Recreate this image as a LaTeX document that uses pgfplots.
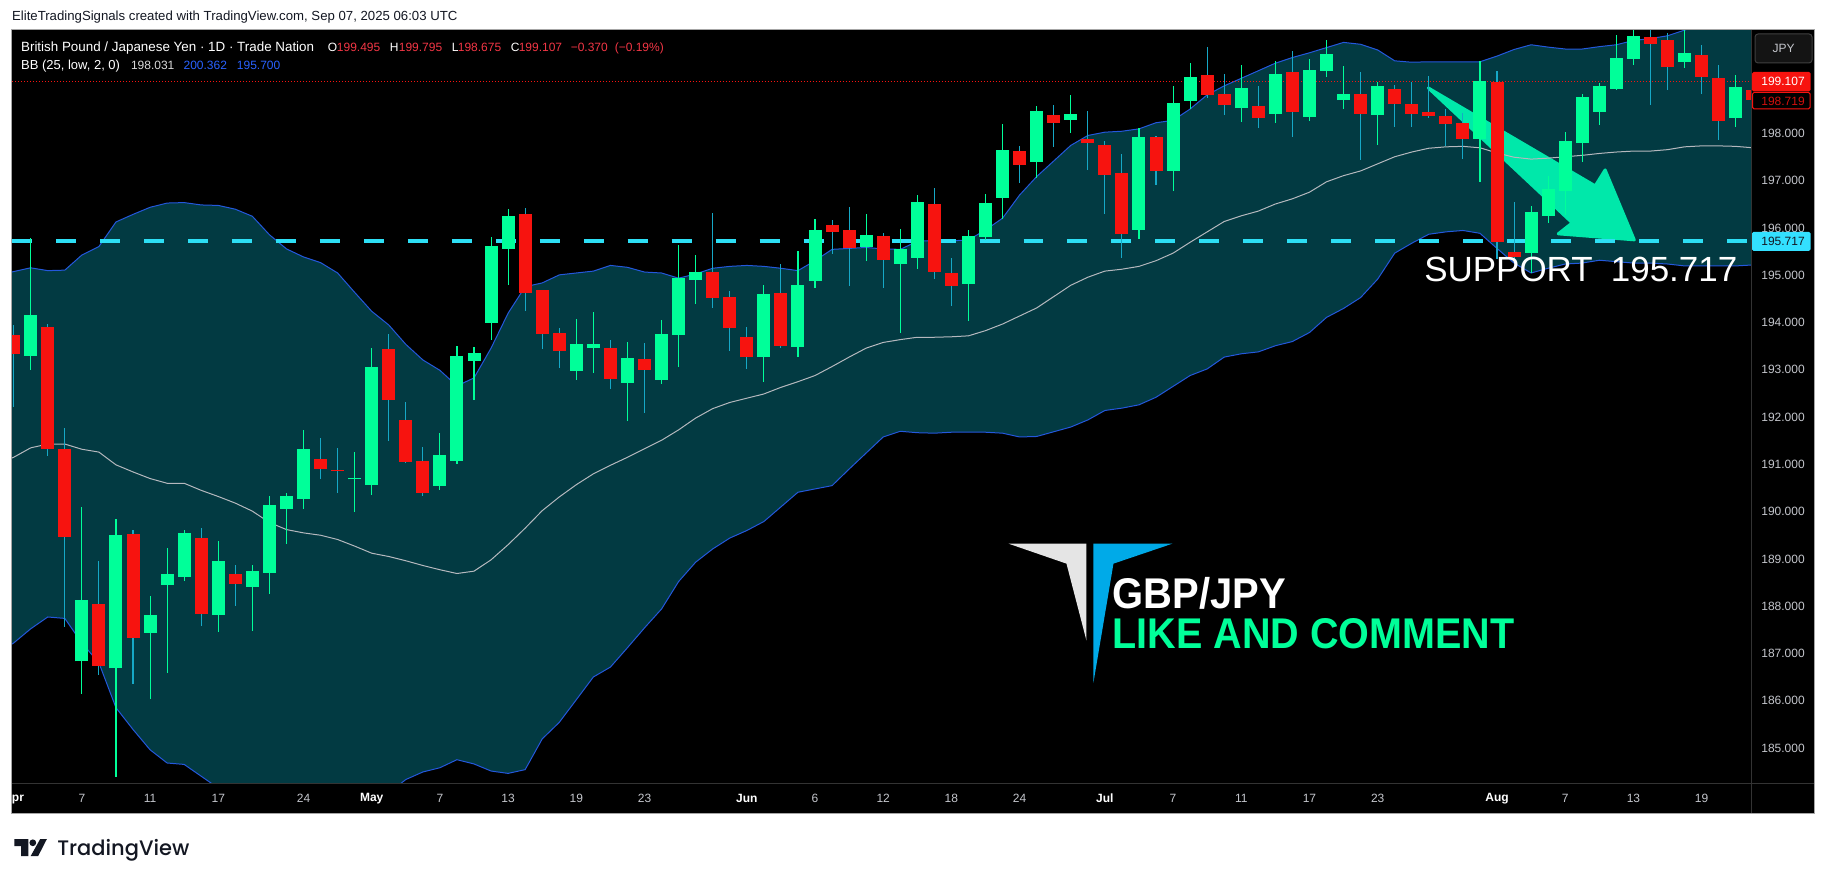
\documentclass[border=0pt]{standalone}
\usepackage{fontspec}
\setmainfont{Liberation Sans}
\newfontfamily\tvfont{Poppins Medium}
\usepackage{graphicx}
\usepackage{pgfplots}
\usepackage{pgfplotstable}
\pgfplotsset{compat=1.18}
\definecolor{upc}{HTML}{00FF99}
\definecolor{dnc}{HTML}{F7130F}
\definecolor{dnw}{HTML}{16A8C6}
\definecolor{bandf}{HTML}{023A42}
\definecolor{bandl}{HTML}{2458DC}
\definecolor{midl}{HTML}{B5B8BE}
\definecolor{sup}{HTML}{2DDFF5}
\definecolor{tickc}{HTML}{C4C6CC}
\definecolor{legred}{HTML}{F23645}
\definecolor{legblue}{HTML}{2962FF}
\definecolor{tvd}{HTML}{131722}
\definecolor{arrowc}{HTML}{00E8AA}
\pgfplotstableread{
i o h l c
1 193.30 195.79 193.00 194.16
4 186.83 190.10 186.13 188.12
6 186.68 189.85 184.39 189.51
8 187.44 188.22 186.04 187.82
9 188.45 189.22 186.59 188.67
10 188.62 189.62 188.54 189.55
12 187.82 189.38 187.46 188.96
14 188.41 188.88 187.48 188.75
15 188.71 190.34 188.26 190.15
16 190.06 190.40 189.32 190.32
17 190.27 191.73 190.06 191.33
20 190.68 191.27 190.00 190.72
21 190.57 193.47 190.36 193.07
25 190.55 191.67 190.46 191.20
26 191.08 193.51 191.01 193.30
27 193.19 193.49 192.37 193.36
28 194.00 195.81 193.64 195.62
29 195.56 196.41 194.80 196.26
33 192.98 194.08 192.79 193.55
34 193.47 194.23 192.94 193.55
36 192.73 193.59 191.91 193.26
38 192.79 194.06 192.71 193.76
39 193.74 195.65 193.07 194.95
40 194.91 195.43 194.40 195.07
44 193.28 194.80 192.75 194.61
46 193.49 195.52 193.28 194.80
47 194.88 196.20 194.74 195.96
50 195.60 196.30 195.31 195.86
52 195.24 195.98 193.78 195.56
53 195.37 196.70 195.14 196.55
56 194.82 195.96 194.04 195.84
57 195.81 196.72 195.74 196.53
58 196.64 198.20 196.20 197.65
60 197.40 198.59 197.06 198.48
62 198.29 198.82 198.01 198.42
66 195.96 198.12 195.77 197.93
68 197.21 199.01 196.79 198.65
69 198.69 199.49 198.52 199.20
72 198.54 199.45 198.25 198.97
74 198.42 199.54 198.23 199.26
76 198.35 199.58 198.27 199.35
77 199.33 199.98 199.20 199.69
78 198.71 199.43 198.52 198.84
80 198.40 199.09 197.76 199.01
86 197.89 199.54 196.98 199.11
89 195.48 196.47 195.05 196.34
90 196.26 197.10 196.11 196.83
91 196.79 198.04 196.28 197.85
92 197.80 198.84 197.40 198.78
93 198.46 199.07 198.18 199.01
94 198.95 200.09 198.92 199.60
95 199.58 200.26 199.45 200.07
98 199.52 200.26 199.39 199.71
101 198.33 199.24 198.14 198.99
}\upt
\pgfplotstableread{
i o h l c
0 193.74 193.95 192.21 193.34
2 193.91 193.97 191.17 191.33
3 191.32 191.77 187.55 189.47
5 188.05 188.96 186.55 186.74
7 189.53 189.62 186.36 187.33
11 189.45 189.66 187.57 187.84
13 188.69 188.86 188.01 188.47
18 191.12 191.56 190.68 190.91
19 190.89 191.35 190.40 190.87
22 193.45 193.76 191.50 192.37
23 191.94 192.32 191.03 191.06
24 191.08 191.37 190.34 190.40
30 196.30 196.43 194.25 194.63
31 194.69 194.69 193.45 193.76
32 193.78 193.89 193.04 193.40
35 193.47 193.64 192.60 192.81
37 193.23 193.57 192.09 193.00
41 195.07 196.32 194.31 194.52
42 194.55 194.67 193.40 193.89
43 193.70 193.91 193.02 193.28
45 194.63 195.24 193.47 193.51
48 196.07 196.17 195.46 195.92
49 195.96 196.45 194.78 195.58
51 195.84 195.90 194.74 195.33
54 196.51 196.85 194.93 195.07
55 195.05 195.37 194.36 194.78
59 197.63 197.74 196.96 197.34
61 198.40 198.61 197.72 198.23
63 197.89 198.48 197.23 197.80
64 197.76 197.85 196.30 197.13
65 197.17 197.57 195.37 195.88
67 197.93 197.95 196.91 197.21
70 199.24 199.83 198.75 198.82
71 198.84 199.26 198.39 198.61
73 198.59 199.01 198.12 198.33
75 199.30 199.75 197.93 198.46
79 198.84 199.30 197.44 198.42
81 198.95 199.03 198.14 198.63
82 198.63 199.09 198.14 198.42
83 198.46 199.22 198.33 198.37
84 198.37 198.52 197.73 198.20
85 198.23 198.44 197.46 197.89
87 199.10 199.33 195.35 195.71
88 195.50 196.55 195.31 195.39
96 200.04 200.26 198.61 199.90
97 199.98 200.12 198.92 199.41
99 199.66 199.88 198.84 199.20
100 199.18 199.45 197.87 198.27
102 198.92 199.13 198.50 198.71
}\dnt
\pgfplotstableread{
i u m l
-1 195.00 191.00 187.00
0 195.08 191.15 187.22
1 195.16 191.35 187.52
2 195.10 191.43 187.77
3 195.11 191.43 187.74
4 195.43 191.32 187.22
5 195.61 191.26 186.80
6 196.13 190.99 185.85
7 196.29 190.84 185.39
8 196.44 190.70 184.96
9 196.53 190.60 184.68
10 196.54 190.60 184.65
11 196.49 190.45 184.40
12 196.48 190.32 184.15
13 196.40 190.18 183.98
14 196.25 190.01 183.84
15 195.86 189.77 183.77
16 195.56 189.62 183.70
17 195.39 189.55 183.70
18 195.27 189.50 183.73
19 195.05 189.41 183.77
20 194.64 189.27 183.84
21 194.24 189.12 183.91
22 193.95 189.05 184.05
23 193.54 188.96 184.33
24 193.21 188.86 184.49
25 192.99 188.77 184.58
26 192.66 188.69 184.75
27 192.83 188.74 184.66
28 193.46 188.98 184.51
29 194.20 189.30 184.46
30 194.76 189.65 184.54
31 194.84 190.02 185.19
32 195.01 190.31 185.54
33 195.05 190.57 186.02
34 195.09 190.80 186.50
35 195.21 190.98 186.71
36 195.17 191.15 187.12
37 195.07 191.33 187.54
38 195.05 191.51 187.94
39 194.94 191.73 188.52
40 195.03 191.98 188.93
41 195.15 192.18 189.21
42 195.19 192.31 189.44
43 195.21 192.40 189.60
44 195.19 192.49 189.79
45 195.15 192.63 190.10
46 195.10 192.75 190.41
47 195.31 192.88 190.48
48 195.55 193.07 190.55
49 195.57 193.27 190.90
50 195.59 193.46 191.24
51 195.56 193.58 191.58
52 195.55 193.64 191.70
53 195.72 193.69 191.67
54 195.74 193.69 191.66
55 195.73 193.70 191.68
56 195.75 193.72 191.68
57 195.96 193.83 191.68
58 196.21 193.97 191.66
59 196.70 194.14 191.58
60 197.09 194.31 191.59
61 197.42 194.55 191.69
62 197.75 194.79 191.79
63 197.96 194.96 191.94
64 198.03 195.09 192.14
65 198.05 195.13 192.19
66 198.10 195.19 192.26
67 198.23 195.31 192.42
68 198.28 195.47 192.65
69 198.52 195.70 192.88
70 198.82 195.92 193.02
71 199.01 196.14 193.27
72 199.17 196.26 193.34
73 199.33 196.36 193.38
74 199.49 196.51 193.51
75 199.61 196.62 193.60
76 199.71 196.76 193.79
77 199.82 196.98 194.11
78 199.93 197.11 194.30
79 199.89 197.21 194.53
80 199.77 197.36 194.92
81 199.54 197.51 195.47
82 199.51 197.61 195.68
83 199.52 197.69 195.87
84 199.52 197.72 195.92
85 199.52 197.73 195.95
86 199.52 197.70 195.89
87 199.64 197.59 195.57
88 199.78 197.50 195.26
89 199.88 197.46 195.05
90 199.83 197.48 195.15
91 199.79 197.51 195.24
92 199.79 197.54 195.26
93 199.84 197.58 195.32
94 199.88 197.61 195.29
95 199.97 197.63 195.26
96 200.01 197.63 195.26
97 200.07 197.66 195.24
98 200.19 197.72 195.20
99 200.30 197.74 195.20
100 200.33 197.74 195.20
101 200.35 197.73 195.20
102 200.37 197.70 195.22
}\bbt
\begin{document}
\begin{tikzpicture}
\path[fill=white] (0,0) rectangle (1825pt,881pt);
\fill[black] (11pt,67pt) rectangle (1814pt,851pt);
\begin{axis}[
  at={(11pt,97pt)},anchor=south west,
  scale only axis,width=1740pt,height=754pt,
  xmin=-0.09,xmax=101.9,ymin=184.246,ymax=200.193,
  axis line style={draw=none},
  major tick length=0pt,
  tick style={draw=none},
  xtick={0,4,8,12,17,21,25,29,33,37,43,47,51,55,59,64,68,72,76,80,87,91,95,99},
  xticklabels={\textbf{\color{white}Apr},7,11,17,24,\textbf{\color{white}May},7,13,19,23,\textbf{\color{white}Jun},6,12,18,24,\textbf{\color{white}Jul},7,11,17,23,\textbf{\color{white}Aug},7,13,19},
  xticklabel style={anchor=center,yshift=-15pt,text=tickc,font=\fontsize{12}{14}\selectfont},
  ytick={185,186,187,188,189,190,191,192,193,194,195,196,197,198},
  yticklabels={185.000,186.000,187.000,188.000,189.000,190.000,191.000,192.000,193.000,194.000,195.000,196.000,197.000,198.000},
  yticklabel pos=right,
  yticklabel style={anchor=center,xshift=32pt,text=tickc,font=\fontsize{12}{14}\selectfont},
]
\addplot[fill=bandf,draw=none,forget plot] table[x=i,y=u] {\bbt} \closedcycle;
\addplot[fill=black,draw=none,forget plot] table[x=i,y=l] {\bbt} \closedcycle;
\addplot[fill=arrowc,draw=arrowc,line width=3pt,line join=round,forget plot] coordinates {(82.97,198.966)(92.76,196.894)(93.34,197.232)(95.05,195.752)(90.59,195.879)(91.41,196.111)} --cycle;
\addplot[draw=bandl,line width=1pt,forget plot] table[x=i,y=u] {\bbt};
\addplot[draw=bandl,line width=1pt,forget plot] table[x=i,y=l] {\bbt};
\addplot[draw=midl,line width=1pt,forget plot] table[x=i,y=m] {\bbt};
\addplot[draw=dnc,line width=0.8pt,dash pattern=on 1pt off 2pt,forget plot] coordinates {(-0.09,199.11)(101.9,199.11)};
\addplot[draw=sup,line width=4pt,dash pattern=on 20pt off 24pt,forget plot] coordinates {(-0.09,195.735)(101.9,195.735)};
\addplot[draw=none,mark=none,forget plot,error bars/.cd,y dir=both,y explicit,error mark=none,error bar style={color=upc,line width=1.1pt}]
  table[x=i,y=o,y error plus expr=\thisrow{h}-\thisrow{o},y error minus expr=\thisrow{o}-\thisrow{l}] {\upt};
\addplot[draw=none,mark=none,forget plot,error bars/.cd,y dir=both,y explicit,error mark=none,error bar style={color=dnw,line width=1.1pt}]
  table[x=i,y=o,y error plus expr=\thisrow{h}-\thisrow{o},y error minus expr=\thisrow{o}-\thisrow{l}] {\dnt};
\addplot[draw=none,mark=none,forget plot,error bars/.cd,y dir=plus,y explicit,error mark=none,error bar style={color=upc,line width=13pt}]
  table[x=i,y=o,y error plus expr=\thisrow{c}-\thisrow{o}] {\upt};
\addplot[draw=none,mark=none,forget plot,error bars/.cd,y dir=plus,y explicit,error mark=none,error bar style={color=dnc,line width=13pt}]
  table[x=i,y=c,y error plus expr=\thisrow{o}-\thisrow{c}] {\dnt};
\end{axis}
\begin{scope}[x=1pt,y=-1pt,shift={(0,881pt)}]
\fill[white] (0,780) rectangle (11,820);
\draw[color=gray!70,line width=1pt] (10.5,30) -- (1814.5,30) -- (1814.5,814.5) -- (10.5,814.5) -- cycle;
\draw[color=black!80!white,line width=0.6pt] (1751,30) -- (1751,814);
\draw[color=black!80!white,line width=0.6pt] (11,784) -- (1814,784);
% watermark logo
\fill[white!90!black] (1008,544) -- (1086,544) -- (1086,641) -- (1066,564) -- cycle;
\fill[color={rgb,255:red,0;green,170;blue,232}] (1093,544) -- (1172,544) -- (1113,564) -- (1093,683) -- cycle;
\tikzset{t/.style={anchor=base west,inner sep=0pt,outer sep=0pt,font=\fontsize{12}{14}\selectfont},
  tn/.style={t,font=\fontsize{13.4}{15}\selectfont}}
\node[t,text=tvd,font=\fontsize{13.2}{15}\selectfont] at (11,21) {EliteTradingSignals created with TradingView.com, Sep 07, 2025 06:03 UTC};
\node[tn,text=white] at (20,52) {British Pound / Japanese Yen · 1D · Trade Nation};
\node[t,text=white] at (327,52) {O};\node[t,text=legred] at (336,52) {199.495};
\node[t,text=white] at (389,52) {H};\node[t,text=legred] at (398,52) {199.795};
\node[t,text=white] at (451,52) {L};\node[t,text=legred] at (457,52) {198.675};
\node[t,text=white] at (510,52) {C};\node[t,text=legred] at (518,52) {199.107};
\node[t,text=legred] at (570,52) {−0.370};\node[t,text=legred] at (614,52) {(−0.19\%)};
\node[t,text=white,font=\fontsize{13}{15}\selectfont] at (20,70) {BB (25, low, 2, 0)};
\node[t,text=white!85!black] at (130,70) {198.031};
\node[t,text=legblue] at (182.6,70) {200.362};
\node[t,text=legblue] at (236,70) {195.700};
\node[t,text=white,font=\fontsize{35}{40}\selectfont] at (1424,282) {SUPPORT\hspace{0.52em}195.717};
\node[t,text=white,font=\fontsize{43}{48}\bfseries\selectfont] at (1112,609) {\scalebox{0.93}[1]{GBP/JPY}};
\node[t,text=upc,font=\fontsize{43}{48}\bfseries\selectfont] at (1112,649) {\scalebox{0.92}[1]{LIKE AND COMMENT}};
% right side labels
\draw[fill=black!92!white,draw=black!75!white,line width=1pt,rounded corners=3pt] (1755,34) rectangle (1812,63);
\node[text=tickc,font=\fontsize{12}{14}\selectfont,inner sep=0pt] at (1783.5,48.5) {JPY};
\fill[dnc,rounded corners=1.5pt] (1752,72) rectangle (1810.5,91.5);
\node[text=white,font=\fontsize{12}{14}\selectfont,inner sep=0pt] at (1783,81.5) {199.107};
\draw[dnc,fill=black,line width=1pt,rounded corners=1.5pt] (1752.5,92.5) rectangle (1810,109);
\node[text=dnc!85!black,font=\fontsize{12}{14}\selectfont,inner sep=0pt] at (1783,101) {198.719};
\fill[color={rgb,255:red,51;green,224;blue,255},rounded corners=1.5pt] (1752,232) rectangle (1810.5,251);
\node[text=tvd,font=\fontsize{12}{14}\selectfont,inner sep=0pt] at (1783,241.7) {195.717};
% TradingView logo
\fill[tvd] (13.3,839.7) -- (27.3,839.7) -- (27.3,856.7) -- (20,856.7) -- (20,846.7) -- (13.3,846.7) -- cycle;
\fill[tvd] (31.7,843.3) circle (3.4);
\fill[tvd] (39,839.7) -- (45.7,839.7) -- (37,856.7) -- (29.5,856.7) -- cycle;
\node[anchor=base west,inner sep=0pt,text=tvd,font=\tvfont\fontsize{21}{24}\selectfont] at (56,856) {TradingView};
\end{scope}
\end{tikzpicture}
\end{document}
